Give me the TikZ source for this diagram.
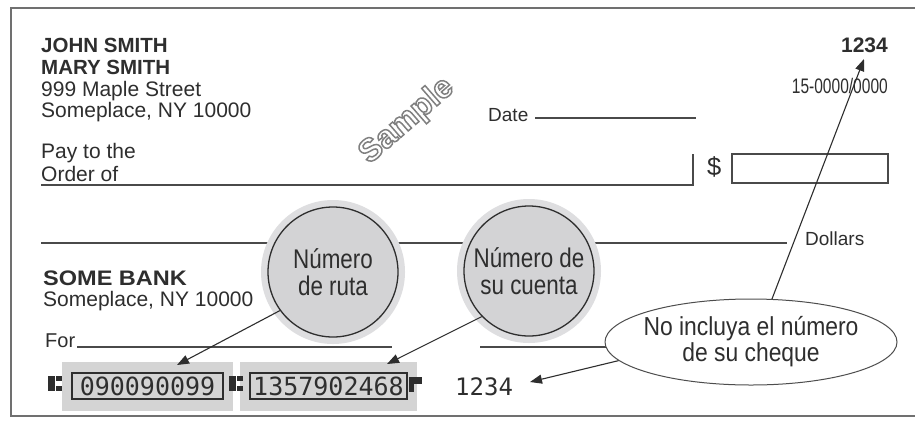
\documentclass[tikz,border=0pt]{standalone}
\usepackage{fontspec}
\setmainfont{Liberation Sans}
\setmonofont{DejaVu Sans Mono}
\newfontfamily\condA[FakeStretch=0.74]{Liberation Sans}
\newfontfamily\condB[FakeStretch=0.83]{Liberation Sans}
\newfontfamily\condC[FakeStretch=0.88]{Liberation Sans}
\newfontfamily\wideF[FakeStretch=1.12]{Liberation Sans}
\usetikzlibrary{shapes.geometric,arrows.meta,calc}
\definecolor{ink}{HTML}{2E2E2E}
\definecolor{rulec}{HTML}{4A4A4A}
\definecolor{bord}{HTML}{707070}
\definecolor{bubble}{HTML}{D3D3D5}
\definecolor{halo}{HTML}{DEDEE0}
\definecolor{micr}{HTML}{D4D4D4}
\newcommand{\outlinetext}[1]{\special{pdf:literal direct 1 Tr 1.5 w 0.5 G}#1\special{pdf:literal direct 0 Tr}}
\begin{document}
\begin{tikzpicture}[x=1pt,y=-1pt,
  txt/.style={inner sep=0pt, anchor=base west, text=ink},
  txtr/.style={inner sep=0pt, anchor=base east, text=ink},
  formline/.style={draw=rulec, line width=1.6pt},
  bub/.style={circle, draw=ink, line width=1.3pt, fill=bubble, minimum size=130pt,
    inner sep=0pt, align=center, text=ink, font=\condB\fontsize{27}{26.7}\selectfont,
    preaction={draw=halo, line width=14pt}},
  arr/.style={draw=ink, line width=1.1pt, -{Triangle[length=12pt,width=9pt]}},
  micrbox/.style={fill=micr, minimum height=49pt, inner sep=0pt},
  micrtxt/.style={draw=ink, line width=1.3pt, minimum height=26pt, inner sep=0pt,
    text=ink, font=\ttfamily\fontsize{25}{25}\selectfont},
  wm/.style={rotate=41, inner sep=0pt, font=\bfseries\fontsize{32}{32}\selectfont}]
\useasboundingbox (0,0) rectangle (915,421);
\clip (0,0) rectangle (915,421);
\fill[white] (0,0) rectangle (915,421);
% check border
\draw[draw=bord, line width=2pt] (11,8) rectangle (940,416);

% owner block
\node[txt, font=\bfseries\fontsize{20.5}{22}\selectfont] (n1) at (41,52) {JOHN SMITH};
\node[txt, font=\bfseries\fontsize{20.5}{22}\selectfont] (n2) at (41,74) {MARY SMITH};
\node[txt, font=\fontsize{21}{22}\selectfont] (a1) at (41,96) {999 Maple Street};
\node[txt, font=\fontsize{21}{22}\selectfont] (a2) at (41,117) {Someplace, NY 10000};

% watermark (outlined text)
\node[wm, text=white] (smp) at (407,121) {\outlinetext{Sample}};

% check number and routing fraction
\node[txtr, font=\bfseries\fontsize{21}{22}\selectfont] (cn) at (888,52) {1234};
\node[txtr, font=\condA\fontsize{21}{22}\selectfont] (rf) at (888,93) {15-0000/0000};

% date
\node[txt, font=\fontsize{19}{20}\selectfont] (dt) at (488,121) {Date};
\draw[formline] (535,118) -- (696,118);

% pay to the order of
\node[txt, font=\fontsize{21}{22}\selectfont] (p1) at (41,158) {Pay to the};
\node[txt, font=\fontsize{21}{22}\selectfont] (p2) at (41,181) {Order of};
\draw[formline] (41,185) -- (693,185) -- (693,154);
\node[txt, font=\fontsize{25.5}{26}\selectfont] (dol) at (707,175) {\$};
\node[draw=rulec, line width=1.6pt, minimum width=156pt, minimum height=29pt, inner sep=0pt] (amt) at (810,168.5) {};

% dollars line
\draw[formline] (41,243) -- (787,243);
\node[txt, font=\fontsize{19}{20}\selectfont] (dlr) at (805,245) {Dollars};

% bank
\node[txt, font=\wideF\bfseries\fontsize{21}{22}\selectfont] (bk) at (43,285) {SOME BANK};
\node[txt, font=\fontsize{21}{22}\selectfont] (bka) at (43,306) {Someplace, NY 10000};

% memo
\node[txt, font=\fontsize{20}{21}\selectfont] (fr) at (45,347) {For};
\draw[formline] (77,347) -- (392,347);
\draw[formline] (480,347) -- (700,347);

% MICR line
\node[micrbox, minimum width=171pt] (g1) at (147.5,386.5) {};
\node[micrbox, minimum width=177pt] (g2) at (328.5,386.5) {};
\node[micrtxt, minimum width=151pt] (m1) at (147.5,386) {090090099};
\node[micrtxt, minimum width=157pt] (m2) at (328.5,386) {1357902468};
\node[txt, font=\ttfamily\fontsize{24}{24}\selectfont] (m3) at (455,395) {1234};
% transit symbols
\foreach \x in {48,229}{
  \fill[ink] (\x,376) rectangle ++(7,15);
  \fill[ink] (\x+8,376) rectangle ++(6,5);
  \fill[ink] (\x+8,386) rectangle ++(6,5);
}
% on-us symbol
\fill[ink] (409,377) rectangle (414,392);
\fill[ink] (414,377) rectangle (422,384);

% callouts
\node[bub] (r) at (333,272) {Número\\de ruta};
\node[bub] (s) at (529,271) {Número de\\su cuenta};
\node[ellipse, draw=ink!85, line width=1pt, fill=white, minimum width=292pt,
  minimum height=86pt, inner xsep=-8pt, inner ysep=0pt, align=center, text=ink,
  font=\condC\fontsize{26}{26}\selectfont] (e) at (751,342) {No incluya el número\\de su cheque};

\coordinate (t1) at (177,365);
\coordinate (t2) at (387,364);
\coordinate (t3) at (530,382);
\coordinate (t4) at (864,59);
\draw[arr] (r.216) -- (t1);
\draw[arr] (s.224) -- (t2);
\draw[arr] (e.188) -- (t3);
\draw[arr] (e.64) -- (t4);
\end{tikzpicture}
\end{document}
